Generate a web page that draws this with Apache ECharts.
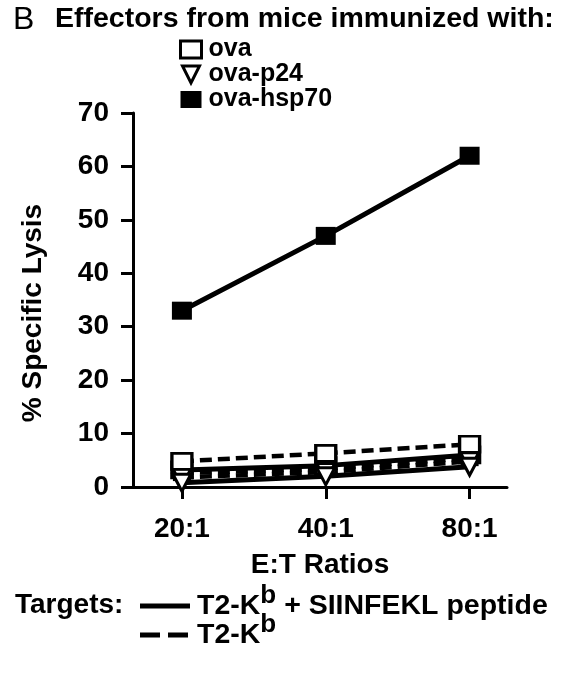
<!DOCTYPE html>
<html>
<head>
<meta charset="utf-8">
<script src="https://cdn.jsdelivr.net/npm/echarts@6/dist/echarts.min.js"></script>
<style>
html,body{margin:0;padding:0;background:#fff;}
#c{width:565px;height:673px;}
</style>
</head>
<body>
<div id="c"></div>
<script>
const ratios = ['20:1', '40:1', '80:1'];
const yTicks = [0, 10, 20, 30, 40, 50, 60, 70];
const ovaPeptide = [3.2, 4.0, 6.0];
const ovaNoPeptide = [4.8, 6.3, 8.0];
const p24Peptide = [0.8, 2.0, 3.8];
const p24NoPeptide = [1.8, 2.8, 4.8];
const hspPeptide = [33, 47, 62];
const hspNoPeptide = [2.6, 3.4, 5.4];

const FONT = '"Liberation Sans", Arial, Helvetica, sans-serif';
const pts = arr => arr.map((v, i) => [i, v]);
const triPath = 'path://M0,0 L10,0 L5,10 Z';

const openSq = { color: '#fff', borderColor: '#000', borderWidth: 3 };
const filled = { color: '#000', borderColor: '#000', borderWidth: 0 };
const openTri = { color: '#fff', borderColor: '#000', borderWidth: 3 };

function mk(name, data, dashed, symbol, size, itemStyle) {
  return {
    name: name,
    type: 'line',
    data: pts(data),
    symbol: symbol,
    symbolSize: size,
    showSymbol: true,
    itemStyle: itemStyle,
    lineStyle: { color: '#000', width: dashed ? 4.5 : 5, type: dashed ? [12, 6] : 'solid', cap: 'butt' },
    animation: false,
    emphasis: { disabled: true }
  };
}

const chart = echarts.init(document.getElementById('c'), null, { renderer: 'canvas' });
chart.setOption({
  backgroundColor: '#fff',
  animation: false,
  textStyle: { fontFamily: FONT },
  grid: { left: 133, top: 113, right: 58, bottom: 186, containLabel: false },
  legend: {
    orient: 'vertical',
    left: 174,
    top: 32,
    itemWidth: 21,
    itemHeight: 17,
    itemGap: 0,
    selectedMode: false,
    textStyle: { fontFamily: FONT, fontWeight: 'bold', fontSize: 25, color: '#000', lineHeight: 25, padding: [0, 0, 0, 2] },
    data: [
      { name: 'ova', icon: 'rect', itemStyle: openSq },
      { name: 'ova-p24', icon: triPath, itemStyle: openTri },
      { name: 'ova-hsp70', icon: 'rect', itemStyle: filled }
    ]
  },
  xAxis: {
    type: 'value',
    min: -0.34,
    max: 2.26,
    splitLine: { show: false },
    axisLine: { show: true, onZero: false, lineStyle: { color: '#000', width: 3 } },
    axisTick: { show: true, customValues: [0, 1, 2], length: 12, lineStyle: { color: '#000', width: 3 } },
    axisLabel: {
      customValues: [0, 1, 2],
      formatter: v => ratios[Math.round(v)],
      margin: 28,
      fontFamily: FONT, fontWeight: 'bold', fontSize: 28, color: '#000'
    },
    name: 'E:T Ratios',
    nameLocation: 'middle',
    nameGap: 64,
    nameTextStyle: { fontFamily: FONT, fontWeight: 'bold', fontSize: 28, color: '#000' }
  },
  yAxis: {
    type: 'value',
    min: 0,
    max: 70,
    interval: 10,
    splitLine: { show: false },
    axisLine: { show: true, onZero: false, lineStyle: { color: '#000', width: 3 } },
    axisTick: { show: true, length: 12, lineStyle: { color: '#000', width: 3 } },
    axisLabel: {
      margin: 24,
      formatter: v => String(yTicks[yTicks.indexOf(v)]),
      fontFamily: FONT, fontWeight: 'bold', fontSize: 28, color: '#000'
    },
    name: '% Specific Lysis',
    nameLocation: 'middle',
    nameGap: 86,
    nameRotate: 90,
    nameTextStyle: { fontFamily: FONT, fontWeight: 'bold', fontSize: 28, color: '#000', padding: [0, 26, 0, 0] }
  },
  series: [
    mk('ova-hsp70', hspNoPeptide, true, 'rect', [18, 16], filled),
    mk('ova', ovaPeptide, false, 'rect', [20, 16], openSq),
    mk('ova-p24', p24NoPeptide, true, triPath, [18, 17], openTri),
    mk('ova-p24', p24Peptide, false, triPath, [18, 17], openTri),
    mk('ova', ovaNoPeptide, true, 'rect', [20, 16], openSq),
    mk('ova-hsp70', hspPeptide, false, 'rect', [20, 18], filled)
  ],
  graphic: [
    { type: 'text', left: 13, top: 4, style: { text: 'B', fontFamily: FONT, fontSize: 32, fill: '#000' } },
    { type: 'text', left: 55, top: 5, style: { text: 'Effectors from mice immunized with:', fontFamily: FONT, fontWeight: 'bold', fontSize: 28.5, fill: '#000' } },
    { type: 'text', left: 15, top: 591, style: { text: 'Targets:', fontFamily: FONT, fontWeight: 'bold', fontSize: 28, fill: '#000' } },
    { type: 'line', shape: { x1: 140, y1: 606, x2: 190, y2: 606 }, style: { stroke: '#000', lineWidth: 5 } },
    { type: 'line', shape: { x1: 140, y1: 635, x2: 190, y2: 635 }, style: { stroke: '#000', lineWidth: 5, lineDash: [20, 8] } },
    { type: 'text', left: 197, top: 583, style: {
        text: '{a|T2-K}{s|b}{a| + SIINFEKL peptide}',
        rich: {
          a: { fontFamily: FONT, fontWeight: 'bold', fontSize: 28.5, fill: '#000', lineHeight: 38, verticalAlign: 'bottom' },
          s: { fontFamily: FONT, fontWeight: 'bold', fontSize: 26, fill: '#000', lineHeight: 38, verticalAlign: 'top' }
        } } },
    { type: 'text', left: 197, top: 612, style: {
        text: '{a|T2-K}{s|b}',
        rich: {
          a: { fontFamily: FONT, fontWeight: 'bold', fontSize: 28.5, fill: '#000', lineHeight: 38, verticalAlign: 'bottom' },
          s: { fontFamily: FONT, fontWeight: 'bold', fontSize: 26, fill: '#000', lineHeight: 38, verticalAlign: 'top' }
        } } }
  ]
});
</script>
</body>
</html>
